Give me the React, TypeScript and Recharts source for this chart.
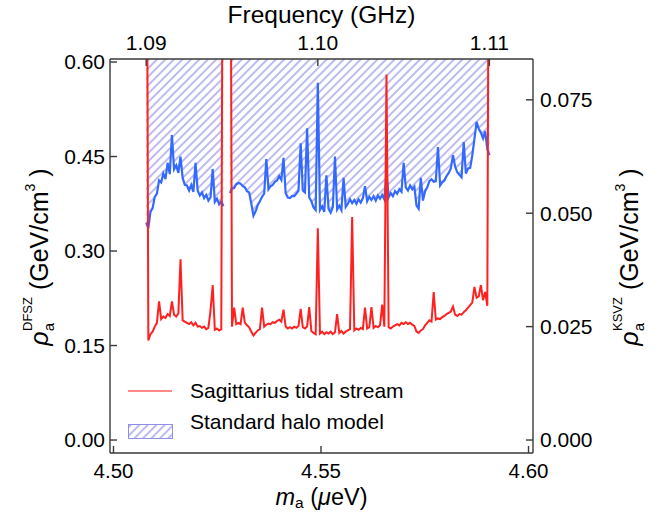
import React from 'react';
import { ComposedChart, Line, Area, XAxis, YAxis } from 'recharts';

// Scan grid (frequency, GHz) and conversion to axion mass (µeV)
const FREQ_START = 1.09;
const FREQ_STEP = 0.000125;
const MEV_PER_GHZ = 4.135667;

// Tick labels
const massTicks = [4.5, 4.55, 4.6];
const freqTicks = [1.09, 1.1, 1.11];
const dfszTicks = [0, 0.15, 0.3, 0.45, 0.6];
const ksvzTicks = [0, 0.025, 0.05, 0.075];

// Standard halo model exclusion limit (GeV/cm^3, DFSZ scale)
const shmDensity: (number | null)[] = [
  0.345, 0.336, 0.362, 0.368, 0.386, 0.391, 0.412, 0.409, 0.423, 0.414,
  0.440, 0.422, 0.484, 0.430, 0.436, 0.424, 0.450, 0.416, 0.405, 0.404,
  0.396, 0.405, 0.394, 0.440, 0.396, 0.388, 0.393, 0.384, 0.389, 0.380,
  0.385, 0.430, 0.378, 0.383, 0.374, 0.379, 0.371, null, null, 0.392,
  0.399, 0.400, 0.406, 0.408, 0.407, 0.403, 0.401, 0.395, 0.393, 0.375,
  0.356, 0.363, 0.373, 0.379, 0.386, 0.391, 0.446, 0.398, 0.403, 0.405,
  0.410, 0.412, 0.419, 0.413, 0.448, 0.392, 0.385, 0.384, 0.387, 0.387,
  0.391, 0.396, 0.471, 0.396, 0.393, 0.495, 0.385, 0.379, 0.369, 0.365,
  0.567, 0.365, 0.371, 0.362, 0.420, 0.367, 0.361, 0.370, 0.450, 0.366,
  0.372, 0.365, 0.416, 0.370, 0.375, 0.382, 0.376, 0.381, 0.375, 0.382,
  0.377, 0.384, 0.403, 0.379, 0.386, 0.381, 0.387, 0.380, 0.388, 0.383,
  0.389, 0.382, 0.425, 0.385, 0.392, 0.387, 0.395, 0.391, 0.398, 0.394,
  0.440, 0.401, 0.396, 0.404, 0.398, 0.402, 0.372, 0.367, 0.416, 0.380,
  0.395, 0.401, 0.411, 0.414, 0.410, 0.411, 0.465, 0.404, 0.409, 0.412,
  0.419, 0.424, 0.431, 0.452, 0.434, 0.425, 0.421, 0.417, 0.473, 0.423,
  0.431, 0.432, 0.452, 0.478, 0.505, 0.494, 0.488, 0.479, 0.490, 0.461,
  0.452,
];

// Sagittarius tidal stream limit (GeV/cm^3, DFSZ scale)
const sagDensity: (number | null)[] = [
  1.2, 0.158, 0.168, 0.172, 0.180, 0.186, 0.220, 0.192, 0.196, 0.194,
  0.200, 0.197, 0.220, 0.199, 0.196, 0.201, 0.287, 0.190, 0.188, 0.186,
  0.184, 0.187, 0.182, 0.186, 0.180, 0.181, 0.178, 0.180, 0.176, 0.178,
  0.206, 0.246, 0.175, 0.177, 0.174, 0.176, 1.2, null, null, 1.2,
  0.180, 0.210, 0.184, 0.186, 0.184, 0.210, 0.186, 0.182, 0.179, 0.172,
  0.166, 0.170, 0.174, 0.176, 0.210, 0.180, 0.183, 0.185, 0.184, 0.187,
  0.186, 0.189, 0.191, 0.188, 0.207, 0.180, 0.177, 0.179, 0.177, 0.180,
  0.178, 0.181, 0.208, 0.179, 0.177, 0.180, 0.211, 0.173, 0.170, 0.168,
  0.336, 0.169, 0.172, 0.168, 0.171, 0.169, 0.172, 0.168, 0.171, 0.200,
  0.170, 0.173, 0.169, 0.172, 0.174, 0.176, 0.354, 0.174, 0.177, 0.175,
  0.178, 0.176, 0.210, 0.177, 0.179, 0.211, 0.178, 0.181, 0.179, 0.182,
  0.215, 0.180, 0.580, 0.179, 0.177, 0.180, 0.182, 0.184, 0.182, 0.186,
  0.184, 0.187, 0.184, 0.186, 0.183, 0.181, 0.172, 0.170, 0.174, 0.176,
  0.182, 0.186, 0.190, 0.188, 0.235, 0.191, 0.193, 0.192, 0.195, 0.197,
  0.200, 0.202, 0.204, 0.212, 0.199, 0.197, 0.200, 0.199, 0.203, 0.206,
  0.210, 0.214, 0.218, 0.243, 0.226, 0.228, 0.246, 0.222, 0.235, 0.213,
  1.2,
];

const HATCH_CEILING = 1.0;

const rows = shmDensity.map((v, i) => {
  const f = FREQ_START + i * FREQ_STEP;
  return {
    f,
    m: f * MEV_PER_GHZ,
    shm: v,
    sag: sagDensity[i],
    band: v == null ? null : [v, HATCH_CEILING],
  };
});

const W = 672;
const H = 512;
const LEFT_W = 110;
const RIGHT_W = 139;
const TOP_H = 59;
const BOTTOM_H = 59;
const PLOT_L = LEFT_W;
const PLOT_R = W - RIGHT_W;
const CX = (PLOT_L + PLOT_R) / 2;
const TITLE_CY = 257;

const FONT = '"Liberation Sans", Arial, Helvetica, sans-serif';
const AXIS_COLOR = '#3a3a3a';
const BLUE = '#3369ff';
const RED = '#ff2020';
const HATCH = '#8f8fe8';

const tickStyle = { fill: '#000', fontSize: 21, fontFamily: FONT };
const bottomTickStyle = { fill: '#000', fontSize: 20.5, fontFamily: FONT };

const DensityTitle = ({ x, tag }: { x: number; tag: string }) => (
  <text
    transform={`translate(${x},${TITLE_CY}) rotate(-90)`}
    textAnchor="middle"
    fontFamily={FONT}
    fontSize={25}
    fill="#000"
  >
    <tspan fontStyle="italic">ρ</tspan>
    <tspan fontSize={15} dy={6}>a</tspan>
    <tspan fontSize={13} dx={-8} dy={-22}>{tag}</tspan>
    <tspan fontSize={25} dy={16}>{' (GeV/cm'}</tspan>
    <tspan fontSize={14} dy={-13}>{'3'}</tspan>
    <tspan fontSize={25} dy={13}>{' )'}</tspan>
  </text>
);

const Overlay = () => (
  <svg
    width={W}
    height={H}
    style={{ position: 'absolute', left: 0, top: 0, pointerEvents: 'none' }}
  >
    <defs>
      <pattern id="hatchLegend" patternUnits="userSpaceOnUse" width={6} height={6} patternTransform="rotate(45)">
        <line x1={3} y1={0} x2={3} y2={6} stroke={HATCH} strokeWidth={1.2} />
      </pattern>
    </defs>
    <text x={CX} y={23} textAnchor="middle" fontFamily={FONT} fontSize={24.5} fill="#000">
      Frequency (GHz)
    </text>
    <text x={CX} y={504.5} textAnchor="middle" fontFamily={FONT} fontSize={23.5} fill="#000">
      <tspan fontStyle="italic">m</tspan>
      <tspan fontSize={15.5} dy={3.5}>a</tspan>
      <tspan dy={-3.5}>{' ('}</tspan>
      <tspan fontStyle="italic">μ</tspan>
      <tspan>eV)</tspan>
    </text>
    <DensityTitle x={48} tag="DFSZ" />
    <DensityTitle x={638} tag="KSVZ" />
    <line x1={128} y1={391} x2={172} y2={391} stroke={RED} strokeOpacity={0.7} strokeWidth={1.6} />
    <text x={190} y={398} fontFamily={FONT} fontSize={21} fill="#000">
      Sagittarius tidal stream
    </text>
    <rect x={128.5} y={424.5} width={44} height={14} fill="url(#hatchLegend)" stroke={HATCH} strokeWidth={1} />
    <text x={190} y={429} fontFamily={FONT} fontSize={21} fill="#000">
      Standard halo model
    </text>
  </svg>
);

export default function App() {
  return (
    <div style={{ position: 'absolute', left: 0, top: 0, width: W, height: H, background: '#fff' }}>
      <ComposedChart width={W} height={H} data={rows} margin={{ top: 0, right: 0, bottom: 0, left: 0 }}>
        <defs>
          <pattern id="hatchFill" patternUnits="userSpaceOnUse" width={6} height={6} patternTransform="rotate(45)">
            <line x1={3} y1={0} x2={3} y2={6} stroke={HATCH} strokeWidth={1.2} />
          </pattern>
        </defs>
        <XAxis
          xAxisId="m"
          dataKey="m"
          type="number"
          domain={[4.49916, 4.60108]}
          ticks={massTicks}
          interval={0}
          allowDataOverflow
          tickFormatter={(v: number) => v.toFixed(2)}
          height={BOTTOM_H}
          tickSize={-7}
          tickMargin={17.5}
          tick={bottomTickStyle}
          axisLine={{ stroke: AXIS_COLOR, strokeWidth: 1.4 }}
          tickLine={{ stroke: AXIS_COLOR, strokeWidth: 1.4 }}
        />
        <XAxis
          xAxisId="f"
          dataKey="f"
          type="number"
          orientation="top"
          domain={[1.08789, 1.11254]}
          ticks={freqTicks}
          interval={0}
          allowDataOverflow
          tickFormatter={(v: number) => v.toFixed(2)}
          height={TOP_H}
          tickSize={-7}
          tickMargin={16}
          tick={tickStyle}
          axisLine={{ stroke: AXIS_COLOR, strokeWidth: 1.4 }}
          tickLine={{ stroke: AXIS_COLOR, strokeWidth: 1.4 }}
        />
        <YAxis
          yAxisId="left"
          type="number"
          domain={[-0.0206, 0.6048]}
          ticks={dfszTicks}
          interval={0}
          allowDataOverflow
          tickFormatter={(v: number) => v.toFixed(2)}
          width={LEFT_W}
          tickSize={-7}
          tickMargin={12}
          tick={tickStyle}
          axisLine={{ stroke: AXIS_COLOR, strokeWidth: 1.4 }}
          tickLine={{ stroke: AXIS_COLOR, strokeWidth: 1.4 }}
        />
        <YAxis
          yAxisId="right"
          orientation="right"
          type="number"
          domain={[-0.00286, 0.084]}
          ticks={ksvzTicks}
          interval={0}
          allowDataOverflow
          tickFormatter={(v: number) => v.toFixed(3)}
          width={RIGHT_W}
          tickSize={-7}
          tickMargin={14}
          tick={tickStyle}
          axisLine={{ stroke: AXIS_COLOR, strokeWidth: 1.4 }}
          tickLine={{ stroke: AXIS_COLOR, strokeWidth: 1.4 }}
        />
        <Area
          xAxisId="m"
          yAxisId="left"
          dataKey="band"
          type="linear"
          fill="url(#hatchFill)"
          fillOpacity={1}
          stroke="none"
          dot={false}
          activeDot={false}
          isAnimationActive={false}
        />
        <Line
          xAxisId="m"
          yAxisId="left"
          dataKey="shm"
          type="linear"
          stroke={BLUE}
          strokeWidth={2.2}
          strokeLinejoin="miter"
          dot={false}
          activeDot={false}
          isAnimationActive={false}
        />
        <Line
          xAxisId="m"
          yAxisId="left"
          dataKey="sag"
          type="linear"
          stroke={RED}
          strokeWidth={2}
          strokeLinejoin="miter"
          dot={false}
          activeDot={false}
          isAnimationActive={false}
        />
        <Line
          xAxisId="f"
          yAxisId="right"
          dataKey="sag"
          type="linear"
          stroke="none"
          strokeWidth={0}
          dot={false}
          activeDot={false}
          legendType="none"
          isAnimationActive={false}
        />
      </ComposedChart>
      <Overlay />
    </div>
  );
}
